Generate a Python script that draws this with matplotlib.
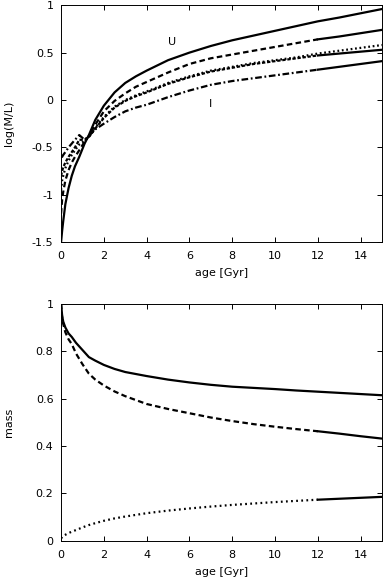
import numpy as np
import matplotlib
matplotlib.use("Agg")
import matplotlib.pyplot as plt

plt.rcParams["font.family"] = ["DejaVu Sans"]
plt.rcParams["font.size"] = 8

# ---- top panel: log(M/L) per band vs age
age_ml = [0, 0.05, 0.1, 0.2, 0.35, 0.5, 0.65, 0.85, 1.1, 1.3, 1.6, 2.0, 2.5, 3.0, 3.5,
          4, 5, 6, 7, 8, 9, 10, 11, 12, 13, 14, 15]
ml_U = [-1.5, -1.38, -1.28, -1.1, -0.93, -0.8, -0.7, -0.6, -0.46, -0.37, -0.21, -0.06, 0.08,
        0.18, 0.25, 0.31, 0.42, 0.50, 0.57, 0.63, 0.68, 0.73, 0.78, 0.83, 0.87, 0.915, 0.96]
ml_B = [-1.2, -1.05, -0.97, -0.85, -0.74, -0.66, -0.6, -0.53, -0.44, -0.38, -0.26, -0.12, -0.01,
        0.07, 0.14, 0.19, 0.29, 0.38, 0.44, 0.48, 0.52, 0.56, 0.60, 0.64, 0.67, 0.705, 0.74]
ml_V = [-0.95, -0.85, -0.8, -0.72, -0.64, -0.58, -0.53, -0.47, -0.43, -0.39, -0.29, -0.18, -0.07,
        0.0, 0.05, 0.09, 0.18, 0.25, 0.31, 0.35, 0.39, 0.42, 0.45, 0.49, 0.52, 0.55, 0.58]
ml_R = [-0.8, -0.75, -0.71, -0.66, -0.6, -0.55, -0.5, -0.42, -0.42, -0.39, -0.3, -0.19, -0.08,
        -0.01, 0.04, 0.08, 0.17, 0.24, 0.30, 0.34, 0.38, 0.41, 0.44, 0.47, 0.49, 0.51, 0.53]
ml_I = [-0.6, -0.6, -0.58, -0.55, -0.5, -0.46, -0.42, -0.37, -0.42, -0.38, -0.31, -0.25, -0.18,
        -0.12, -0.08, -0.05, 0.03, 0.10, 0.16, 0.20, 0.23, 0.26, 0.29, 0.32, 0.35, 0.38, 0.41]

# ---- bottom panel: mass fractions vs age
age_m = [0, 0.05, 0.1, 0.2, 0.35, 0.5, 0.7, 1.0, 1.3, 1.6, 2, 2.5, 3, 4, 5, 6, 7, 8, 9,
         10, 11, 12, 13, 14, 15]
mass_a = [1.0, 0.95, 0.925, 0.90, 0.875, 0.86, 0.835, 0.805, 0.775, 0.76, 0.742, 0.725, 0.712,
          0.695, 0.68, 0.668, 0.658, 0.65, 0.645, 0.64, 0.634, 0.629, 0.624, 0.619, 0.614]
mass_b = [1.0, 0.94, 0.915, 0.88, 0.85, 0.83, 0.79, 0.745, 0.705, 0.68, 0.655, 0.63, 0.61,
          0.577, 0.556, 0.538, 0.52, 0.505, 0.492, 0.481, 0.471, 0.462, 0.452, 0.441, 0.431]
mass_c = [0.01, 0.015, 0.02, 0.025, 0.032, 0.038, 0.045, 0.056, 0.066, 0.074, 0.084, 0.094,
          0.102, 0.116, 0.127, 0.136, 0.144, 0.151, 0.157, 0.163, 0.168, 0.173, 0.177, 0.181, 0.185]

T_SOLID = 12  # curves turn solid past this age in the original


def curve(ax, x, y, dashes, solid_tail=True, lw=1.6):
    x = np.asarray(x); y = np.asarray(y)
    if dashes is None:
        ax.plot(x, y, color="black", lw=lw)
        return
    if solid_tail:
        m = x <= T_SOLID
        ax.plot(x[m], y[m], color="black", lw=lw, dashes=dashes)
        ax.plot(x[x >= T_SOLID], y[x >= T_SOLID], color="black", lw=lw)
    else:
        ax.plot(x, y, color="black", lw=lw, dashes=dashes)


def style(ax):
    ax.set_xlim(0, 15)
    ax.set_xticks(range(0, 16, 2))
    ax.tick_params(direction="in", top=True, right=True, length=3.5, width=0.7)
    ax.tick_params(axis="x", pad=6.5)
    ax.tick_params(axis="y", pad=5.5)
    for s in ax.spines.values():
        s.set_linewidth(0.7)
    ax.set_xlabel("age [Gyr]", labelpad=5)
    ax.yaxis.set_label_coords(-0.147, 0.5)


fig = plt.figure(figsize=(3.89, 5.82), dpi=100)
ax1 = fig.add_axes([0.157, 0.584, 0.825, 0.407])
ax2 = fig.add_axes([0.157, 0.071, 0.825, 0.407])

curve(ax1, age_ml, ml_U, None)
curve(ax1, age_ml, ml_B, (2.5, 1.5))
curve(ax1, age_ml, ml_V, (0.8, 1.2), solid_tail=False)
curve(ax1, age_ml, ml_R, (1.5, 0.8))
curve(ax1, age_ml, ml_I, (3, 1.2, 0.8, 1.2))
ax1.set_ylim(-1.5, 1)
ax1.set_yticks([-1.5, -1, -0.5, 0, 0.5, 1])
ax1.set_yticklabels(["-1.5", "-1", "-0.5", "0", "0.5", "1"])
ax1.set_ylabel("log(M/L)")
ax1.text(5.2, 0.61, "U", ha="center", va="center")
ax1.text(7.0, -0.04, "I", ha="center", va="center")
style(ax1)

curve(ax2, age_m, mass_a, None)
curve(ax2, age_m, mass_b, (2.5, 1.5))
curve(ax2, age_m, mass_c, (0.8, 1.5))
ax2.set_ylim(0, 1)
ax2.set_yticks([0, 0.2, 0.4, 0.6, 0.8, 1])
ax2.set_yticklabels(["0", "0.2", "0.4", "0.6", "0.8", "1"])
ax2.set_ylabel("mass")
style(ax2)

fig.savefig("out.png", dpi=100)
